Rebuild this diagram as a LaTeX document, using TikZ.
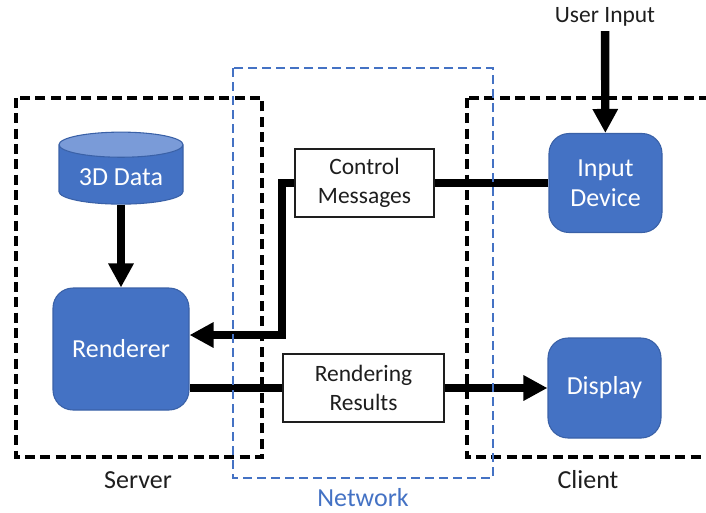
\documentclass[tikz,border=0pt]{standalone}
\usepackage{fontspec}
\setmainfont{Carlito}
\usetikzlibrary{arrows.meta,shapes.geometric}
\definecolor{officeblue}{RGB}{68,114,196}
\definecolor{officelight}{RGB}{122,155,216}
\definecolor{inkgray}{RGB}{30,30,30}
\tikzset{>={Triangle[width=18pt,length=18pt]},
	unit/.style={draw=officeblue!85!black, line width=0.8pt, fill=officeblue,
		rounded corners=15pt, text=white, align=center,
		font=\fontsize{19.5}{22.5}\selectfont},
	dbase/.style={cylinder, shape border rotate=90, aspect=0.27,
		draw=officeblue!85!black, line width=0.8pt, cylinder uses custom fill,
		cylinder body fill=officeblue, cylinder end fill=officelight,
		minimum width=93pt, minimum height=54pt, text=white,
		font=\fontsize{19.5}{22.5}\selectfont},
	msg/.style={draw=inkgray, line width=1pt, fill=white, align=center,
		minimum height=51pt, text=inkgray, font=\fontsize{17.6}{21.4}\selectfont},
	flow/.style={line width=6.3pt},
	frame/.style={line width=2.4pt, dash pattern=on 7.5pt off 4pt},
	netframe/.style={draw=officeblue, line width=1.6pt, dash pattern=on 6.5pt off 4pt},
	tag/.style={text=inkgray, font=\fontsize{19.5}{22.5}\selectfont}}
\begin{document}
\begin{tikzpicture}[x=0.75pt,y=-0.75pt]
	\useasboundingbox (0,0) rectangle (706,512);
	\node[dbase] (data) at (121,177) {3D Data};
	\node[unit, minimum width=102pt, minimum height=91.5pt] (render) at (121,349) {Renderer};
	\node[msg, minimum width=104.25pt] (ctrl) at (364.5,183) {Control\\Messages};
	\node[msg, minimum width=120.75pt] (results) at (363.5,388) {Rendering\\Results};
	\node[unit, minimum width=84.75pt, minimum height=74.25pt] (input) at (605.5,183) {Input\\Device};
	\node[unit, minimum width=84.75pt, minimum height=75pt] (disp) at (604.5,388) {Display};
	\node[tag, font=\fontsize{17.6}{21.4}\selectfont] (user) at (605,17) {User Input};
	\coordinate (bend) at (282,335);

	\draw[flow,->] (user) -- (input);
	\draw[flow,->] (data) -- (render);
	\draw[flow] (input) -- (ctrl);
	\draw[flow,->] (ctrl.west) -| (bend) -- (bend -| render.east);
	\draw[flow] (results.west) -- (results.west -| render.east);
	\draw[flow,->] (results) -- (disp);

	\draw[frame] (16,98) rectangle (262,457);
	\draw[frame] (467,98) rectangle (712,457);
	\draw[netframe] (233,68) rectangle (493,478);

	\node[tag] (srvtag) at (138,480) {Server};
	\node[tag, text=officeblue] (nettag) at (363,498) {Network};
	\node[tag] (clitag) at (588,480) {Client};
\end{tikzpicture}
\end{document}
